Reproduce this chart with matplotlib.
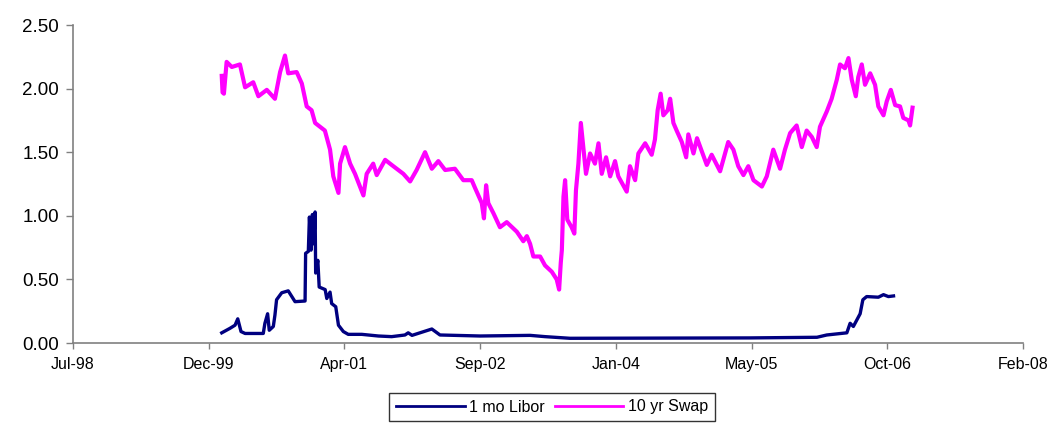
import matplotlib
matplotlib.use("Agg")
import matplotlib.pyplot as plt
import matplotlib.dates as mdates
import numpy as np
from datetime import date, timedelta

plt.rcParams['font.family'] = ['Liberation Sans', 'DejaVu Sans']

# values
swap_dates = [
    "2000-01-23", "2000-01-26", "2000-01-31", "2000-02-10", "2000-02-29", "2000-03-30",
    "2000-04-18", "2000-05-18", "2000-06-06", "2000-07-07", "2000-08-06", "2000-08-25",
    "2000-09-12", "2000-09-24", "2000-10-25", "2000-11-13", "2000-12-01", "2000-12-19",
    "2001-01-01", "2001-02-06", "2001-02-25", "2001-03-09", "2001-03-28", "2001-04-03",
    "2001-04-21", "2001-05-10", "2001-05-28", "2001-06-15", "2001-06-28", "2001-07-10",
    "2001-08-03", "2001-08-16", "2001-09-16", "2001-10-10", "2001-11-22", "2001-12-17",
    "2002-01-10", "2002-02-10", "2002-03-07", "2002-03-31", "2002-04-25", "2002-05-31",
    "2002-07-01", "2002-08-01", "2002-08-13", "2002-09-07", "2002-09-15", "2002-09-23",
    "2002-10-01", "2002-10-20", "2002-11-13", "2002-12-08", "2003-01-14", "2003-02-07",
    "2003-02-20", "2003-03-04", "2003-03-16", "2003-04-10", "2003-04-28", "2003-05-23",
    "2003-06-10", "2003-06-19", "2003-06-25", "2003-06-29", "2003-07-05", "2003-07-11",
    "2003-07-19", "2003-08-04", "2003-08-14", "2003-08-20", "2003-08-29", "2003-09-07",
    "2003-09-16", "2003-09-26", "2003-10-11", "2003-10-29", "2003-11-11", "2003-11-23",
    "2003-12-09", "2003-12-24", "2004-01-11", "2004-01-23", "2004-02-23", "2004-03-06",
    "2004-03-25", "2004-04-06", "2004-05-01", "2004-05-25", "2004-06-06", "2004-06-16",
    "2004-06-27", "2004-07-07", "2004-07-23", "2004-08-01", "2004-08-13", "2004-08-25",
    "2004-09-13", "2004-09-29", "2004-10-07", "2004-10-26", "2004-11-08", "2004-12-14",
    "2005-01-01", "2005-02-01", "2005-03-03", "2005-03-22", "2005-04-09", "2005-04-28",
    "2005-05-16", "2005-06-04", "2005-07-05", "2005-07-23", "2005-08-16", "2005-09-10",
    "2005-09-28", "2005-10-17", "2005-11-10", "2005-11-29", "2005-12-17", "2006-01-05",
    "2006-01-23", "2006-02-04", "2006-03-01", "2006-03-19", "2006-04-07", "2006-04-19",
    "2006-05-07", "2006-05-20", "2006-06-01", "2006-06-16", "2006-06-25", "2006-07-08",
    "2006-07-20", "2006-08-08", "2006-08-26", "2006-09-07", "2006-09-26", "2006-10-08",
    "2006-10-23", "2006-11-08", "2006-11-26", "2006-12-08", "2006-12-27", "2007-01-02",
    "2007-01-11",
]
swap_values = [
    2.10, 1.97, 1.96, 2.21, 2.17, 2.19,
    2.01, 2.05, 1.94, 1.99, 1.92, 2.13,
    2.26, 2.12, 2.13, 2.04, 1.86, 1.83,
    1.73, 1.67, 1.52, 1.31, 1.18, 1.41,
    1.54, 1.41, 1.33, 1.23, 1.16, 1.33,
    1.41, 1.32, 1.44, 1.40, 1.33, 1.27,
    1.36, 1.50, 1.37, 1.43, 1.36, 1.37,
    1.28, 1.28, 1.22, 1.10, 0.98, 1.24,
    1.10, 1.02, 0.91, 0.95, 0.875, 0.80,
    0.84, 0.78, 0.68, 0.68, 0.61, 0.56,
    0.50, 0.42, 0.63, 0.73, 1.15, 1.28,
    0.97, 0.91, 0.86, 1.20, 1.41, 1.73,
    1.54, 1.33, 1.49, 1.41, 1.57, 1.33,
    1.46, 1.31, 1.43, 1.31, 1.19, 1.39,
    1.28, 1.49, 1.57, 1.48, 1.60, 1.83,
    1.96, 1.79, 1.83, 1.92, 1.73, 1.67,
    1.58, 1.46, 1.64, 1.49, 1.61, 1.40,
    1.48, 1.35, 1.58, 1.52, 1.39, 1.32,
    1.39, 1.28, 1.23, 1.31, 1.52, 1.37,
    1.52, 1.65, 1.71, 1.54, 1.67, 1.62,
    1.54, 1.70, 1.82, 1.92, 2.07, 2.19,
    2.16, 2.24, 2.07, 1.94, 2.09, 2.19,
    2.03, 2.12, 2.03, 1.86, 1.79, 1.90,
    1.99, 1.87, 1.86, 1.77, 1.75, 1.71,
    1.85,
]

libor_dates = [
    "2000-01-23", "2000-02-22", "2000-03-12", "2000-03-22", "2000-04-03", "2000-04-18",
    "2000-06-24", "2000-06-30", "2000-07-10", "2000-07-16", "2000-07-31", "2000-08-06",
    "2000-08-12", "2000-08-31", "2000-09-24", "2000-10-19", "2000-11-25", "2000-11-27",
    "2000-12-07", "2000-12-11", "2000-12-17", "2000-12-22", "2000-12-27", "2001-01-01",
    "2001-01-03", "2001-01-11", "2001-01-16", "2001-02-07", "2001-02-13", "2001-02-25",
    "2001-03-03", "2001-03-18", "2001-03-28", "2001-04-15", "2001-05-03", "2001-06-22",
    "2001-08-22", "2001-10-10", "2001-11-28", "2001-12-10", "2001-12-24", "2002-03-07",
    "2002-04-06", "2002-09-01", "2003-03-04", "2003-04-28", "2003-07-29", "2005-05-22",
    "2006-01-24", "2006-03-01", "2006-05-14", "2006-05-26", "2006-06-07", "2006-07-02",
    "2006-07-12", "2006-07-26", "2006-09-07", "2006-09-26", "2006-10-14", "2006-11-02",
]
libor_values = [
    0.08, 0.115, 0.14, 0.19, 0.09, 0.075,
    0.075, 0.155, 0.23, 0.10, 0.13, 0.22,
    0.34, 0.395, 0.41, 0.325, 0.33, 0.705,
    0.72, 0.99, 0.73, 1.01, 0.78, 1.03,
    0.55, 0.65, 0.44, 0.42, 0.35, 0.40,
    0.31, 0.285, 0.14, 0.09, 0.068, 0.068,
    0.055, 0.05, 0.063, 0.08, 0.06, 0.11,
    0.063, 0.055, 0.06, 0.05, 0.037, 0.04,
    0.045, 0.063, 0.08, 0.155, 0.13, 0.23,
    0.34, 0.365, 0.36, 0.38, 0.365, 0.37,
]

yticks = [0.0, 0.5, 1.0, 1.5, 2.0, 2.5]

# excel-like date axis: serial 36000 (Jul-98) with a 500 day major unit
axis_start = date(1998, 7, 24)
xticks = [axis_start + timedelta(days=500 * i) for i in range(8)]

swap_x = [date.fromisoformat(s) for s in swap_dates]
libor_x = [date.fromisoformat(s) for s in libor_dates]

fig = plt.figure(figsize=(10.55, 4.26), dpi=100)
ax = fig.add_axes([73 / 1055, 83 / 426, 950 / 1055, 318 / 426])

ax.plot(libor_x, libor_values, color='#000080', lw=2.4, label='1 mo Libor')
ax.plot(swap_x, swap_values, color='#FF00FF', lw=3.0, label='10 yr Swap')

ax.set_xlim(xticks[0], xticks[-1])
ax.set_ylim(0, 2.5)
ax.set_xticks(xticks)
ax.xaxis.set_major_formatter(mdates.DateFormatter('%b-%y'))
ax.set_yticks(yticks)
ax.set_yticklabels(['%.2f' % v for v in yticks])

for side in ['top', 'right']:
    ax.spines[side].set_visible(False)
for side in ['left', 'bottom']:
    ax.spines[side].set_color('#808080')
    ax.spines[side].set_linewidth(1.2)

ax.tick_params(axis='y', direction='out', length=5, width=1, color='#808080',
               labelsize=13.5, pad=5)
ax.tick_params(axis='x', direction='out', length=4, width=1, color='#808080',
               labelsize=11.5, pad=6)

leg = fig.legend(loc='center', bbox_to_anchor=(552 / 1055, 19 / 426), ncol=2,
                 frameon=True, fancybox=False, fontsize=11.5, handlelength=4.3,
                 handletextpad=0.3, columnspacing=0.6, borderpad=0.4)
leg.get_frame().set_edgecolor('black')
leg.get_frame().set_linewidth(1.0)
for line in leg.get_lines():
    line.set_linewidth(2.0)

fig.savefig('out.png', dpi=100)
